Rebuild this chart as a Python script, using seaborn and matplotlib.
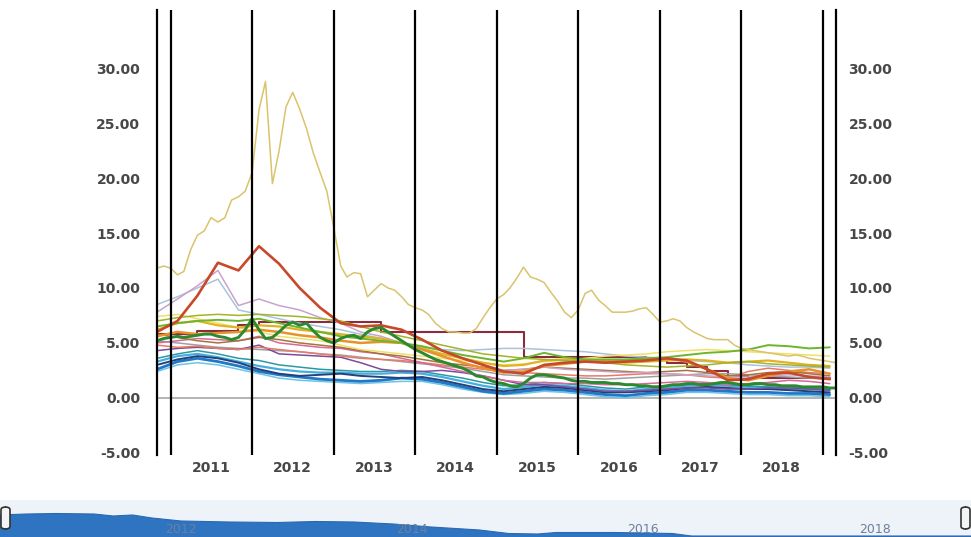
import pandas as pd
import numpy as np
import matplotlib
matplotlib.use('Agg')
import matplotlib.pyplot as plt
import matplotlib.dates as mdates
from matplotlib.patches import FancyBboxPatch
import seaborn as sns

# monthly and quarterly date grids
months = pd.date_range('2010-11-01', '2019-03-01', freq='MS')
quarters = pd.date_range('2010-11-01', periods=34, freq='3MS')

# monthly series
yellow = [11.8, 12.0,
          11.8, 11.2, 11.5, 13.5, 14.8, 15.2, 16.4, 16.0, 16.4, 18.0, 18.3, 18.8,
          20.5, 26.2, 28.8, 19.5, 22.5, 26.5, 27.8, 26.3, 24.5, 22.3, 20.5, 18.8,
          15.5, 12.0, 11.0, 11.4, 11.3, 9.2, 9.8, 10.4, 10.0, 9.8, 9.2, 8.5,
          8.2, 8.0, 7.6, 6.8, 6.3, 6.0, 6.0, 5.9, 5.9, 6.3, 7.3, 8.2,
          9.0, 9.4, 10.0, 10.9, 11.9, 11.0, 10.8, 10.5, 9.6, 8.8, 7.8, 7.3,
          8.0, 9.5, 9.8, 8.9, 8.4, 7.8, 7.8, 7.8, 7.9, 8.1, 8.2, 7.6,
          6.9, 7.0, 7.2, 7.0, 6.4, 6.0, 5.7, 5.4, 5.3, 5.3, 5.3, 4.8,
          4.5, 4.4, 4.3, 4.2, 4.1, 4.0, 3.9, 3.8, 3.9, 3.8, 3.6, 3.5,
          3.4, 3.3, 3.2]
dark_green = [5.2, 5.4,
              5.5, 5.6, 5.5, 5.6, 5.7, 5.8, 5.8, 5.6, 5.5, 5.3, 5.5, 6.2,
              7.2, 6.2, 5.4, 5.5, 6.0, 6.6, 6.9, 6.6, 6.8, 6.1, 5.5, 5.2,
              5.0, 5.4, 5.6, 5.7, 5.4, 6.0, 6.3, 6.4, 6.0, 5.6, 5.2, 4.8,
              4.4, 4.1, 3.8, 3.5, 3.3, 3.1, 2.9, 2.7, 2.4, 2.0, 1.9, 1.6,
              1.4, 1.3, 1.1, 1.0, 1.3, 1.8, 2.1, 2.1, 2.0, 1.9, 1.8, 1.6,
              1.5, 1.5, 1.4, 1.4, 1.4, 1.3, 1.3, 1.2, 1.2, 1.1, 1.1, 1.0,
              1.0, 1.1, 1.2, 1.2, 1.3, 1.3, 1.2, 1.2, 1.3, 1.4, 1.4, 1.3,
              1.2, 1.2, 1.3, 1.3, 1.2, 1.2, 1.1, 1.1, 1.1, 1.0, 1.0, 1.0,
              1.0, 0.9, 0.9]

# quarterly series
orange_red = [6.0, 7.0, 9.3, 12.3, 11.6, 13.8, 12.2, 10.0, 8.2, 6.8, 6.5, 6.6, 6.2, 5.3, 4.3, 3.6, 3.0,
              2.4, 2.2, 3.0, 3.2, 3.3, 3.2, 3.3, 3.4, 3.6, 3.4, 2.6, 1.6, 1.7, 2.2, 2.3, 1.9, 1.7]
maroon = [5.8, 5.8, 6.1, 6.1, 6.6, 6.9, 6.9, 6.9, 6.9, 6.9, 6.9, 6.0, 6.0, 6.0, 6.0, 6.0, 6.0,
          6.0, 3.7, 3.7, 3.7, 3.7, 3.7, 3.7, 3.5, 3.2, 2.8, 2.4, 2.0, 1.8, 1.8, 1.8, 1.8, 1.8]
lavender = [7.8, 9.0, 10.2, 11.6, 8.4, 9.0, 8.4, 8.0, 7.3, 6.8, 6.0, 5.6, 5.0, 4.5, 4.0, 3.6, 3.0,
            2.5, 2.6, 2.8, 2.6, 2.5, 2.4, 2.3, 2.3, 2.2, 2.1, 2.0, 1.9, 1.9, 2.0, 2.1, 2.0, 1.9]
light_steel = [8.5, 9.2, 10.0, 10.8, 8.0, 7.6, 7.2, 6.8, 6.5, 6.2, 5.8, 5.4, 5.0, 4.6, 4.4, 4.3, 4.4,
               4.5, 4.5, 4.4, 4.3, 4.2, 4.0, 3.8, 3.7, 3.6, 3.4, 3.3, 3.2, 3.0, 2.9, 2.8, 2.8, 2.7]
olive = [7.0, 7.3, 7.5, 7.6, 7.5, 7.6, 7.5, 7.4, 7.2, 7.0, 6.5, 6.0, 5.6, 5.2, 4.8, 4.4, 4.0,
         3.8, 3.6, 3.5, 3.4, 3.3, 3.2, 3.0, 2.9, 2.8, 2.9, 3.0, 3.2, 3.3, 3.1, 3.0, 2.9, 2.8]
bright_green = [6.5, 6.8, 7.0, 7.1, 7.0, 7.2, 6.8, 6.4, 6.0, 5.6, 5.4, 5.2, 5.0, 4.7, 4.3, 3.9, 3.6,
                3.3, 3.6, 4.1, 3.7, 3.5, 3.5, 3.5, 3.6, 3.7, 3.9, 4.1, 4.2, 4.4, 4.8, 4.7, 4.5, 4.6]
gold = [6.2, 6.8, 7.0, 6.6, 6.4, 6.6, 6.5, 6.2, 6.0, 5.8, 5.6, 5.4, 5.0, 4.5, 4.0, 3.6, 3.2,
        2.9, 3.0, 3.4, 3.5, 3.4, 3.3, 3.2, 3.3, 3.4, 3.5, 3.4, 3.2, 3.3, 3.4, 3.2, 3.0, 2.9]
orange = [5.6, 6.0, 5.8, 5.9, 6.0, 6.2, 6.0, 5.7, 5.5, 5.2, 5.0, 5.1, 5.0, 4.4, 3.8, 3.2, 2.7,
          2.3, 2.4, 2.9, 3.1, 3.3, 3.4, 3.4, 3.5, 3.6, 3.3, 2.6, 1.8, 1.6, 2.0, 2.4, 2.6, 2.2]
pale_yellow = [7.4, 7.6, 7.2, 6.8, 6.4, 6.0, 5.6, 5.4, 5.2, 4.8, 4.4, 4.2, 4.0, 3.8, 3.6, 3.4, 3.2,
               3.0, 3.1, 3.3, 3.4, 3.6, 3.8, 3.9, 4.0, 4.2, 4.3, 4.4, 4.3, 4.2, 4.1, 4.0, 3.9, 3.8]
brown = [5.8, 5.5, 5.2, 5.0, 5.2, 5.5, 5.3, 5.0, 4.8, 4.6, 4.3, 4.0, 3.8, 3.5, 3.2, 3.0, 2.8,
         2.5, 2.6, 2.8, 2.7, 2.6, 2.5, 2.4, 2.3, 2.4, 2.5, 2.3, 2.0, 2.1, 2.3, 2.4, 2.2, 2.0]
pink = [5.0, 5.2, 5.4, 5.3, 5.2, 5.6, 5.0, 4.8, 4.6, 4.5, 4.2, 4.0, 3.6, 3.2, 2.8, 2.4, 2.0,
        1.6, 1.4, 1.4, 1.3, 1.3, 1.2, 1.2, 1.3, 1.4, 1.5, 1.4, 1.2, 1.3, 1.4, 1.6, 1.5, 1.3]
salmon = [4.8, 4.6, 4.7, 4.5, 4.4, 4.6, 4.4, 4.2, 4.0, 3.8, 3.6, 3.5, 3.4, 3.2, 3.0, 2.8, 2.6,
          2.4, 2.3, 2.2, 2.1, 2.0, 2.0, 2.1, 2.2, 2.2, 2.1, 1.9, 1.8, 2.4, 2.7, 2.5, 2.3, 2.2]
purple = [4.3, 4.5, 4.6, 4.5, 4.4, 4.8, 4.0, 3.9, 3.8, 3.7, 3.2, 2.6, 2.4, 2.4, 2.5, 2.3, 2.0,
          1.6, 1.2, 1.2, 1.0, 0.8, 0.6, 0.6, 0.7, 0.8, 0.9, 0.9, 0.8, 0.8, 0.9, 0.9, 0.8, 0.7]
gray = [5.2, 5.0, 4.8, 4.6, 4.5, 4.4, 4.3, 4.2, 4.0, 3.9, 3.7, 3.5, 3.3, 3.1, 2.9, 2.7, 2.4,
        2.1, 2.0, 1.9, 1.8, 1.8, 1.7, 1.8, 1.9, 2.0, 2.1, 2.2, 2.2, 2.1, 2.0, 1.9, 1.8, 1.7]
navy = [3.0, 3.5, 3.8, 3.6, 3.2, 2.6, 2.2, 2.0, 2.1, 2.2, 2.0, 1.9, 1.8, 1.9, 1.6, 1.2, 0.8,
        0.6, 0.8, 1.0, 0.9, 0.7, 0.5, 0.5, 0.6, 0.7, 0.9, 1.0, 0.9, 0.8, 0.8, 0.7, 0.6, 0.5]
blue = [2.6, 3.3, 3.6, 3.3, 2.9, 2.4, 2.1, 1.9, 1.7, 1.6, 1.5, 1.6, 1.8, 1.7, 1.4, 1.0, 0.6,
        0.4, 0.6, 0.8, 0.7, 0.5, 0.3, 0.2, 0.4, 0.5, 0.7, 0.7, 0.6, 0.5, 0.5, 0.4, 0.4, 0.3]
light_blue = [3.3, 3.8, 4.0, 3.7, 3.3, 2.9, 2.6, 2.4, 2.3, 2.3, 2.2, 2.2, 2.3, 2.2, 1.9, 1.5, 1.1,
              0.8, 1.0, 1.2, 1.1, 0.9, 0.7, 0.6, 0.8, 0.9, 1.1, 1.2, 1.1, 1.0, 0.9, 0.8, 0.8, 0.7]
teal = [3.6, 4.0, 4.3, 4.0, 3.6, 3.4, 3.0, 2.8, 2.6, 2.5, 2.4, 2.4, 2.5, 2.4, 2.1, 1.8, 1.4,
        1.1, 1.2, 1.4, 1.3, 1.1, 0.9, 0.8, 1.0, 1.1, 1.2, 1.3, 1.2, 1.1, 1.0, 1.0, 0.9, 0.8]
cyan = [2.4, 3.0, 3.2, 3.0, 2.6, 2.2, 1.8, 1.6, 1.5, 1.4, 1.3, 1.4, 1.5, 1.5, 1.2, 0.8, 0.5,
        0.3, 0.4, 0.6, 0.5, 0.3, 0.1, 0.0, 0.2, 0.3, 0.5, 0.5, 0.4, 0.3, 0.3, 0.2, 0.2, 0.1]

# navigator (overview) series
nav_dates = pd.to_datetime(['2010-06-01', '2010-09-01', '2010-12-01', '2011-04-01', '2011-06-01',
                            '2011-08-01', '2011-10-01', '2012-01-01', '2012-06-01', '2012-11-01',
                            '2013-03-01', '2013-07-01', '2013-11-01', '2014-03-01', '2014-08-01',
                            '2014-11-01', '2015-02-01', '2015-04-01', '2015-10-01', '2016-04-01',
                            '2016-06-01', '2018-11-01'])
nav_values = [22, 23, 23.5, 23, 21, 22, 19, 16, 15, 14.5, 15.5, 15, 13, 10, 7, 3.5, 3, 4.5, 4.5, 3.5, 1, 1]
nav_labels = ['2012', '2014', '2016', '2018']

y_ticks = [-5, 0, 5, 10, 15, 20, 25, 30]

quarterly = {
    'cyan': cyan, 'blue': blue, 'light_blue': light_blue, 'teal': teal, 'navy': navy,
    'gray': gray, 'purple': purple, 'salmon': salmon, 'pink': pink, 'brown': brown,
    'light_steel': light_steel, 'lavender': lavender, 'pale_yellow': pale_yellow,
    'gold': gold, 'orange': orange, 'olive': olive, 'bright_green': bright_green,
    'orange_red': orange_red,
}
monthly = {'dark_green': dark_green, 'yellow': yellow}

palette = {
    'cyan': '#6cc4e6', 'blue': '#1f78c8', 'light_blue': '#45aee0', 'teal': '#2b9aa0',
    'navy': '#25417a', 'gray': '#a0a0a0', 'purple': '#7b4c9c', 'salmon': '#ea7a66',
    'pink': '#d8689a', 'brown': '#a4743e', 'light_steel': '#a9c3dc', 'lavender': '#c9a3cc',
    'pale_yellow': '#efe06a', 'gold': '#e2b224', 'orange': '#e8922c', 'olive': '#a2b428',
    'bright_green': '#6cb62c', 'orange_red': '#c8482a', 'dark_green': '#2b8a2e',
    'yellow': '#d9c46c',
}
widths = {k: 1.1 for k in palette}
widths.update({'blue': 2.0, 'light_blue': 1.6, 'navy': 1.4, 'orange': 1.8, 'gold': 1.6,
               'orange_red': 1.9, 'dark_green': 2.1, 'bright_green': 1.4})

frames = []
for name, vals in quarterly.items():
    frames.append(pd.DataFrame({'date': quarters, 'value': vals, 'series': name}))
for name, vals in monthly.items():
    frames.append(pd.DataFrame({'date': months, 'value': vals, 'series': name}))
df = pd.concat(frames, ignore_index=True)
order = list(quarterly) + list(monthly)

sns.set_style('white')
plt.rcParams['font.family'] = ['DejaVu Sans']
plt.rcParams['axes.unicode_minus'] = False

fig = plt.figure(figsize=(9.71, 5.37), dpi=100)
ax = fig.add_axes([157 / 971, 1 - 455 / 537, 679 / 971, 445 / 537])

ax.axhline(0, color='#a8a8a8', lw=1.2, zorder=1)
sns.lineplot(x=quarters, y=maroon, color='#8c2b3c', lw=1.5, drawstyle='steps-post', ax=ax)
sns.lineplot(data=df, x='date', y='value', hue='series', size='series', hue_order=order,
             size_order=order, palette=palette, sizes=widths, estimator=None, sort=False,
             legend=False, ax=ax)

for yr in range(2011, 2020):
    ax.axvline(pd.Timestamp(f'{yr}-01-01'), color='black', lw=1.6, zorder=5)

ax.set_xlim(pd.Timestamp('2010-11-01'), pd.Timestamp('2019-03-01'))
ax.set_ylim(-5.2, 35.3)
ax.set_xlabel('')
ax.set_ylabel('')
for s in ['top', 'bottom']:
    ax.spines[s].set_visible(False)
for s in ['left', 'right']:
    ax.spines[s].set_color('black')
    ax.spines[s].set_linewidth(1.6)
    ax.spines[s].set_visible(True)

tick_font = dict(fontsize=10, fontweight='bold', color='#474747')
ax.set_yticks(y_ticks)
ax.set_yticklabels([f'{v:.2f}' for v in y_ticks], **tick_font)
ax.tick_params(axis='y', length=0, pad=12)
ax.xaxis.set_major_locator(mdates.YearLocator(base=1, month=7, day=1))
ax.xaxis.set_major_formatter(mdates.DateFormatter('%Y'))
for lab in ax.get_xticklabels():
    lab.set(**tick_font)
ax.tick_params(axis='x', length=0, pad=4)

ax2 = ax.twinx()
ax2.set_ylim(ax.get_ylim())
ax2.set_yticks(y_ticks)
ax2.set_yticklabels([f'{v:.2f}' for v in y_ticks], **tick_font)
ax2.tick_params(axis='y', length=0, pad=9)
for s in ax2.spines.values():
    s.set_visible(False)

# navigator strip
nav = fig.add_axes([0, 0, 1, 37 / 537])
nav.set_facecolor('#eef3f9')
nav.fill_between(nav_dates, nav_values, color='#2f74c0', lw=0)
sns.lineplot(x=nav_dates, y=nav_values, color='#2a68b0', lw=0.8, ax=nav)
nav.set_xlim(pd.Timestamp('2010-06-08'), pd.Timestamp('2018-11-01'))
nav.set_ylim(0, 37)
nav.set_xticks([])
nav.set_yticks([])
nav.set_xlabel('')
nav.set_ylabel('')
for s in nav.spines.values():
    s.set_visible(False)
for lab in nav_labels:
    nav.text(pd.Timestamp(f'{lab}-01-01'), 0.2, lab, transform=nav.get_xaxis_transform(),
             ha='center', va='center', fontsize=9, color='#6d7f9c')
for x0 in [1 / 971, 961 / 971]:
    fig.patches.append(FancyBboxPatch((x0, 8 / 537), 9 / 971, 22 / 537,
                                      boxstyle='round,pad=0,rounding_size=0.005',
                                      transform=fig.transFigure, facecolor='#f4f4f4',
                                      edgecolor='#333333', lw=1.2))

fig.savefig('out.png', dpi=100)
